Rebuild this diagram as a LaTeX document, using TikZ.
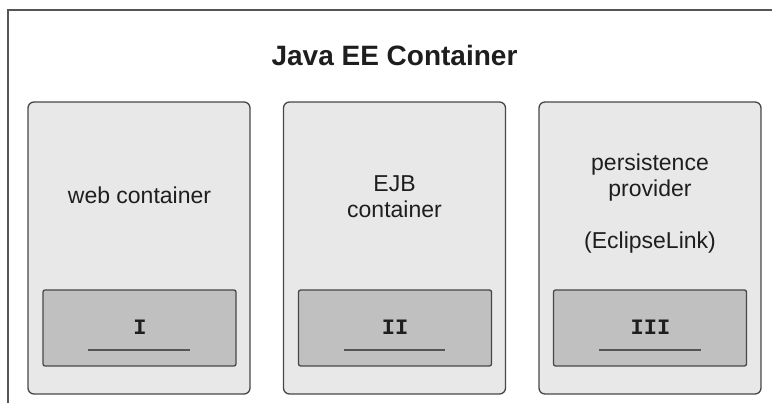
\documentclass[tikz,border=0pt]{standalone}
\usepackage{fontspec}
\setmainfont{Liberation Sans}
\newfontfamily\monofont{Liberation Mono}
\definecolor{framegray}{HTML}{555555}
\definecolor{boxline}{HTML}{474747}
\definecolor{outerfill}{HTML}{E8E8E8}
\definecolor{innerfill}{HTML}{C0C0C0}
\definecolor{textgray}{HTML}{1E1E1E}
\begin{document}
\begin{tikzpicture}[x=1pt,y=-1pt,
  containerbox/.style={draw=boxline, line width=1.3pt, fill=outerfill, rounded corners=6pt,
    minimum width=222pt, minimum height=292pt, inner sep=0pt},
  slotbox/.style={draw=boxline, line width=1.3pt, fill=innerfill, rounded corners=2pt,
    minimum width=193pt, minimum height=76pt, inner sep=0pt},
  boxlabel/.style={font=\fontsize{23}{26}\selectfont, text=textgray, align=center, anchor=base, inner sep=0pt},
  numlabel/.style={font=\fontsize{22}{24}\selectfont\monofont\bfseries, text=textgray, anchor=base, inner sep=0pt},
  rule/.style={draw=framegray, line width=1.6pt}]
\useasboundingbox[fill=white] (0,0) rectangle (772,403);
\draw[draw=framegray, line width=1.2pt] (8,403) -- (8,10) -- (772,10);
\node[font=\fontsize{28}{32}\selectfont\bfseries, text=textgray, anchor=base, inner sep=0pt] (title) at (394.5,66) {Java EE Container};
% containers
\node[containerbox] (web) at (139,248) {};
\node[containerbox] (ejb) at (394.5,248) {};
\node[containerbox] (pers) at (650,248) {};
% slots
\node[slotbox] (s1) at (139.5,328) {};
\node[slotbox] (s2) at (395,328) {};
\node[slotbox] (s3) at (650,328) {};
% labels (base anchor = baseline of last line)
\node[boxlabel] (webl) at (139.5,204) {web container};
\node[boxlabel] (ejbl) at (394.5,217.5) {EJB\\container};
\node[boxlabel] (persl) at (650,249) {persistence\\provider\\[26pt](EclipseLink)};
% numerals
\node[numlabel] (n1) at (140,335) {I};
\node[numlabel] (n2) at (395,335) {II};
\node[numlabel] (n3) at (650.5,335) {III};
% underlines
\coordinate (u1a) at (88,350); \coordinate (u1b) at (190,350);
\coordinate (u2a) at (344,350); \coordinate (u2b) at (445,350);
\coordinate (u3a) at (599,350); \coordinate (u3b) at (701,350);
\draw[rule] (u1a) -- (u1b);
\draw[rule] (u2a) -- (u2b);
\draw[rule] (u3a) -- (u3b);
\end{tikzpicture}
\end{document}
